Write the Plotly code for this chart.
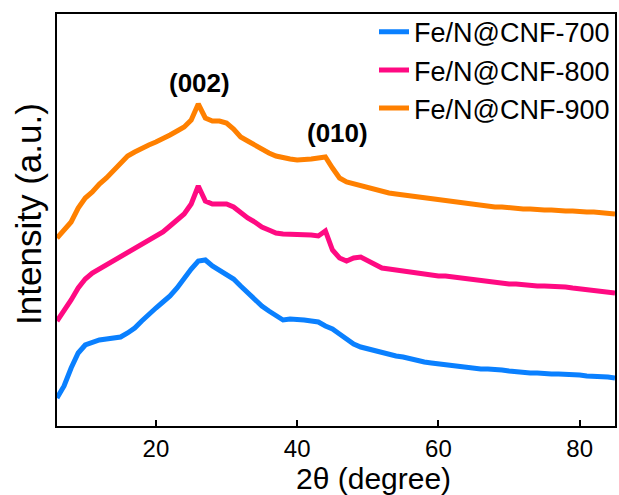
import plotly.graph_objects as go

two_theta = list(range(6, 86))

fe700 = [28, 40, 58, 73, 81, 84, 86, 87, 88, 89,
         93, 98, 105, 112, 118, 124, 130, 138, 148, 157,
         165, 166, 160, 156, 152, 147, 140, 133, 126, 120,
         115, 110, 106, 107, 107, 106, 105, 104, 100, 97,
         92, 87, 82, 79, 77, 75, 73, 71, 70, 69,
         67, 65, 64, 63, 62, 61, 60, 59, 58, 58,
         57, 57, 57, 56, 55, 54, 54, 53, 53, 52,
         52, 52, 52, 51, 51, 50, 50, 49, 49, 48]

fe800 = [105, 115, 126, 138, 147, 153, 157, 162, 166, 170,
         173, 177, 181, 185, 189, 194, 200, 206, 212, 222,
         240, 225, 222, 222, 222, 219, 213, 208, 204, 199,
         196, 193, 192, 192, 191, 191, 191, 190, 195, 176,
         168, 165, 168, 169, 165, 161, 158, 157, 156, 154,
         153, 153, 152, 151, 150, 150, 149, 148, 147, 146,
         145, 144, 143, 143, 142, 142, 141, 141, 140, 140,
         140, 139, 139, 138, 137, 137, 136, 135, 134, 133]

fe900 = [188, 196, 204, 218, 228, 234, 242, 248, 255, 263,
         270, 274, 278, 281, 284, 287, 291, 295, 299, 306,
         322, 308, 305, 305, 303, 297, 289, 285, 281, 276,
         273, 270, 268, 267, 266, 266, 267, 268, 269, 258,
         248, 244, 242, 240, 238, 236, 235, 233, 232, 231,
         230, 229, 228, 227, 226, 225, 224, 223, 222, 222,
         221, 220, 219, 219, 218, 218, 217, 217, 216, 216,
         216, 215, 215, 215, 214, 214, 214, 213, 213, 212]

series_names = ["Fe/N@CNF-700", "Fe/N@CNF-800", "Fe/N@CNF-900"]
series_values = [fe700, fe800, fe900]
colors = ["#0a80ff", "#ff0a82", "#ff8000"]

peak_labels = ["(002)", "(010)"]
peak_x = [26.2, 45.7]
peak_y = [343, 293]

x_ticks = [20, 40, 60, 80]

FONT = "Arial, Liberation Sans, sans-serif"

fig = go.Figure()
for name, vals, col in zip(series_names, series_values, colors):
    fig.add_trace(go.Scatter(x=two_theta, y=vals, mode="lines", name=name,
                             line=dict(color=col, width=5)))

for lab, px, py in zip(peak_labels, peak_x, peak_y):
    fig.add_annotation(x=px, y=py, text="<b>%s</b>" % lab, showarrow=False,
                       font=dict(family=FONT, size=26, color="black"),
                       xanchor="center", yanchor="middle")

fig.add_annotation(xref="paper", yref="paper", x=0.568, y=-0.128,
                   text="2θ (degree)", showarrow=False,
                   font=dict(family=FONT, size=30, color="black"),
                   xanchor="center", yanchor="middle")
fig.add_annotation(xref="paper", yref="paper", x=-0.05, y=0.515,
                   text="Intensity (a.u.)", showarrow=False, textangle=-90,
                   font=dict(family=FONT, size=35, color="black"),
                   xanchor="center", yanchor="middle")

fig.update_layout(
    width=619, height=495,
    margin=dict(l=57, r=2, t=14, b=69),
    paper_bgcolor="white", plot_bgcolor="white",
    font=dict(family=FONT, color="black"),
    showlegend=True,
    legend=dict(x=1.0, y=1.015, xanchor="right", yanchor="top",
                bgcolor="rgba(0,0,0,0)", font=dict(family=FONT, size=27),
                tracegroupgap=0, itemwidth=30),
)
fig.update_xaxes(range=[6, 85], tickvals=x_ticks, ticks="inside", ticklen=6,
                 tickwidth=2, tickcolor="black", showline=True, linecolor="black",
                 linewidth=2, mirror=True, showgrid=False, zeroline=False,
                 tickfont=dict(family=FONT, size=24, color="black"))
fig.update_yaxes(range=[0, 412], showticklabels=False, ticks="", showline=True,
                 linecolor="black", linewidth=2, mirror=True, showgrid=False,
                 zeroline=False)

fig.write_html("out.html")
